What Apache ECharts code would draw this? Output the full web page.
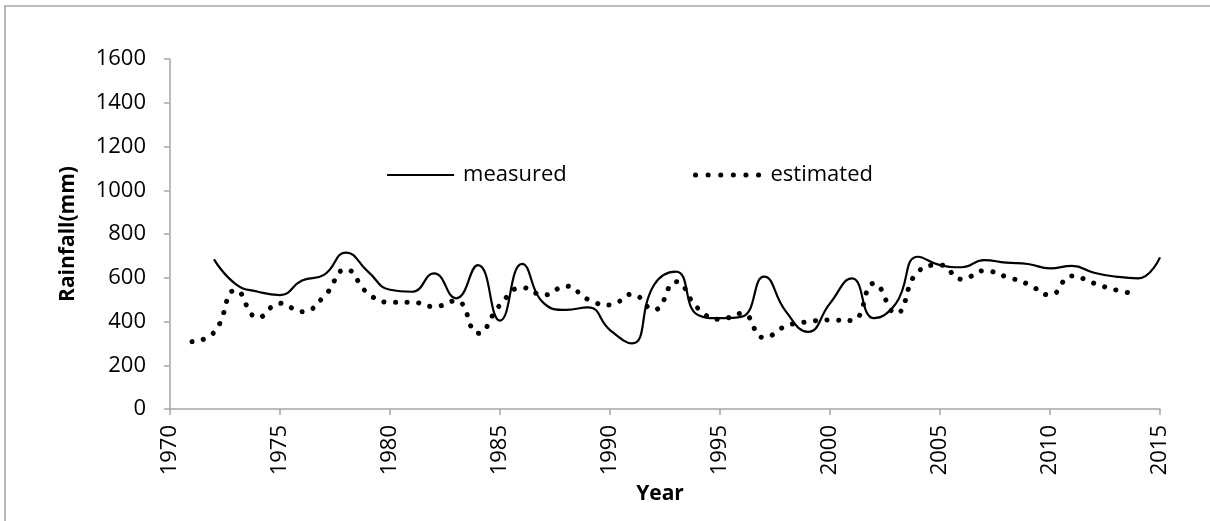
<!DOCTYPE html>
<html>
<head>
<meta charset="utf-8">
<script src="https://cdn.jsdelivr.net/npm/echarts@6/dist/echarts.min.js"></script>
<style>
html,body{margin:0;padding:0;background:#fff;}
#chart{width:1210px;height:521px;}
</style>
</head>
<body>
<div id="chart"></div>
<script>
const measuredYears = [1972,1973,1974,1975,1976,1977,1978,1979,1980,1981,1982,1983,1984,1985,1986,1987,1988,1989,1990,1991,1992,1993,1994,1995,1996,1997,1998,1999,2000,2001,2002,2003,2004,2005,2006,2007,2008,2009,2010,2011,2012,2013,2014,2015];
const measuredValues = [684,570,536,521,587,613,715,628,545,536,620,506,658,404,663,483,453,465,361,300,567,628,430,415,422,605,445,353,483,597,415,483,696,658,648,681,669,663,643,654,623,605,597,693];
const estimatedYears = [1971,1972,1973,1974,1975,1976,1977,1978,1979,1980,1981,1982,1983,1984,1985,1986,1987,1988,1989,1990,1991,1992,1993,1994,1995,1996,1997,1998,1999,2000,2001,2002,2003,2004,2005,2006,2007,2008,2009,2010,2011,2012,2013,2014];
const estimatedValues = [308,350,544,418,483,445,514,638,529,488,488,468,495,346,475,555,521,562,501,475,525,453,582,460,410,437,326,379,399,407,404,575,437,628,658,593,632,605,571,521,608,575,544,525];

const FONT = '"Open Sans", "Liberation Sans", sans-serif';
const chart = echarts.init(document.getElementById('chart'), null, {renderer: 'canvas'});
const axisGrey = '#a6a6a6';
const dotStyle = {color: '#000', width: 5, type: [0.1, 11.5], cap: 'round'};
chart.setOption({
  animation: false,
  backgroundColor: '#fff',
  graphic: [{
    type: 'rect', silent: true,
    shape: {x: 5, y: 6, width: 1215, height: 530},
    style: {fill: 'none', stroke: '#a6a6a6', lineWidth: 1.6}
  }],
  grid: {left: 170, right: 50, top: 59, bottom: 112, containLabel: false},
  legend: [
    {data: ['measured'], left: 381, top: 159, itemWidth: 67, itemHeight: 14, itemGap: 0,
     itemStyle: {opacity: 0},
     lineStyle: {color: '#000', width: 2.2},
     textStyle: {fontFamily: FONT, fontSize: 22, color: '#000', padding: [0,0,0,4]}},
    {data: ['estimated'], left: 688, top: 159, itemWidth: 64, itemHeight: 14, itemGap: 0,
     itemStyle: {opacity: 0},
     lineStyle: {color: '#000', width: 5, type: [0.1, 12.5], cap: 'round'},
     textStyle: {fontFamily: FONT, fontSize: 22, color: '#000', padding: [0,0,0,6]}}
  ],
  xAxis: {
    type: 'value', min: 1970, max: 2015, interval: 5,
    name: 'Year', nameLocation: 'middle', nameGap: 74,
    nameTextStyle: {fontFamily: FONT, fontSize: 21, fontWeight: 'bold', color: '#000', padding: [0,10,0,0]},
    axisLine: {show: true, lineStyle: {color: axisGrey, width: 1.5}},
    axisTick: {show: true, length: 6, lineStyle: {color: axisGrey, width: 1.5}},
    axisLabel: {rotate: 90, margin: 16, fontFamily: FONT, fontSize: 22, color: '#000',
      formatter: v => String(v)},
    splitLine: {show: false}
  },
  yAxis: {
    type: 'value', min: 0, max: 1600, interval: 200,
    name: 'Rainfall(mm)', nameLocation: 'middle', nameGap: 91,
    nameTextStyle: {fontFamily: FONT, fontSize: 21, fontWeight: 'bold', color: '#000'},
    axisLine: {show: true, lineStyle: {color: axisGrey, width: 1.5}},
    axisTick: {show: true, length: 6, lineStyle: {color: axisGrey, width: 1.5}},
    axisLabel: {margin: 24, fontFamily: FONT, fontSize: 22, color: '#000',
      formatter: v => String(v)},
    splitLine: {show: false}
  },
  series: [
    {
      name: 'measured', type: 'line', smooth: true, symbol: 'none',
      data: measuredYears.map((y, i) => [y, measuredValues[i]]),
      lineStyle: {color: '#000', width: 2.2},
      itemStyle: {color: '#000'}
    },
    {
      name: 'estimated', type: 'line', smooth: true, symbol: 'none',
      data: estimatedYears.map((y, i) => [y, estimatedValues[i]]),
      lineStyle: dotStyle,
      itemStyle: {color: '#000'}
    }
  ]
});
</script>
</body>
</html>
